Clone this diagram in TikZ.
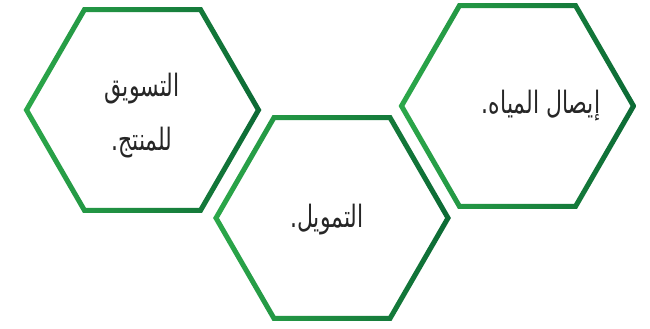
\documentclass[tikz,border=0pt]{standalone}
\usepackage{fontspec}
\TeXXeTstate=1
\newfontfamily\arabicfont[Script=Arabic]{DejaVu Sans}
\definecolor{gl}{HTML}{2CA84A}
\definecolor{gd}{HTML}{0C6A35}
\definecolor{txt}{HTML}{262626}
\tikzset{
  hexring/.style={left color=gl, right color=gd, even odd rule},
  lbl/.style={text=txt, font=\arabicfont\fontsize{22}{54}\selectfont, align=center, inner sep=0pt}
}
\newcommand\tall[1]{\scalebox{1}[1.4]{\beginR #1\endR}}
\newcommand\hexring[3]{% cx, cy, R
  \shade[hexring]
    ({#1+(#3+2.9)},{#2}) -- ({#1+(#3+2.9)/2},{#2+0.866*(#3+2.9)}) -- ({#1-(#3+2.9)/2},{#2+0.866*(#3+2.9)}) -- ({#1-(#3+2.9)},{#2}) -- ({#1-(#3+2.9)/2},{#2-0.866*(#3+2.9)}) -- ({#1+(#3+2.9)/2},{#2-0.866*(#3+2.9)}) -- cycle
    ({#1+(#3-2.9)},{#2}) -- ({#1+(#3-2.9)/2},{#2+0.866*(#3-2.9)}) -- ({#1-(#3-2.9)/2},{#2+0.866*(#3-2.9)}) -- ({#1-(#3-2.9)},{#2}) -- ({#1-(#3-2.9)/2},{#2-0.866*(#3-2.9)}) -- ({#1+(#3-2.9)/2},{#2-0.866*(#3-2.9)}) -- cycle;
}
\begin{document}
\begin{tikzpicture}[x=1pt,y=-1pt]
  \useasboundingbox (0,0) rectangle (650,329);
  \fill[white] (0,0) rectangle (650,329);
  \hexring{142.5}{110}{116}
  \hexring{332}{218}{116}
  \hexring{517.5}{106}{116}
  \node[lbl] (marketing) at (142,116) {\tall{التسويق}\\\tall{للمنتج.}};
  \node[lbl, anchor=base] (finance) at (327,227) {\tall{التمويل.}};
  \node[lbl, anchor=base] (water) at (541,113) {\tall{إيصال المياه.}};
\end{tikzpicture}
\end{document}
